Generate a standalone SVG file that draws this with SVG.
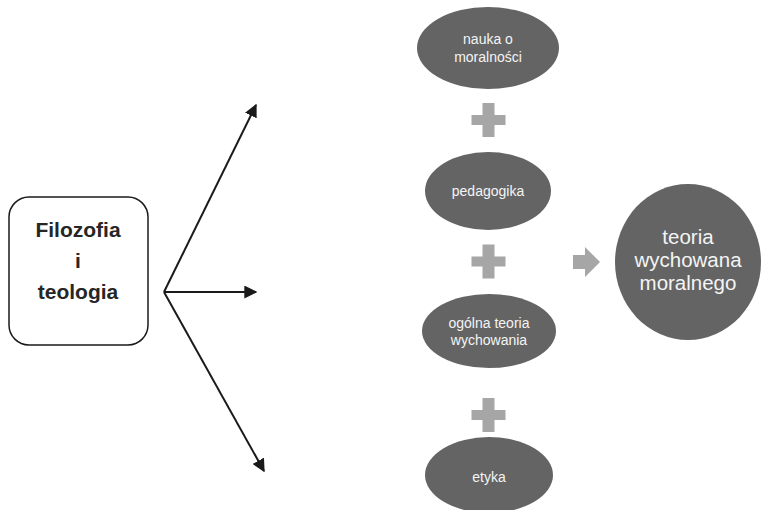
<svg xmlns="http://www.w3.org/2000/svg" width="765" height="510" viewBox="0 0 765 510">
  <defs>
    <style>
      .term { fill: #646464; }
      .term-text { font-family: "Liberation Sans", Arial, sans-serif; font-size: 14px; fill: #f4f4f4; text-anchor: middle; }
      .result-text { font-family: "Liberation Sans", Arial, sans-serif; font-size: 20.5px; fill: #f4f4f4; text-anchor: middle; }
      .source-text { font-family: "Liberation Sans", Arial, sans-serif; font-size: 21px; font-weight: bold; fill: #262626; text-anchor: middle; }
      .plus { fill: #a6a6a6; }
      .link { stroke: #1a1a1a; stroke-width: 2; fill: none; marker-end: url(#tip); }
    </style>
    <marker id="tip" viewBox="0 0 10 10" refX="9" refY="5" markerWidth="6.5" markerHeight="6.5" markerUnits="strokeWidth" orient="auto">
      <path d="M0,0 L10,5 L0,10 Z" fill="#1a1a1a"/>
    </marker>
    <path id="plus-shape" d="M-6,-17 H6 V-5 H17 V5 H6 V17 H-6 V5 H-17 V-5 H-6 Z"/>
  </defs>

  <rect width="765" height="510" fill="#ffffff"/>

  <!-- source box -->
  <g id="source">
    <rect x="9" y="197" width="139" height="148" rx="20" ry="20" fill="#ffffff" stroke="#1a1a1a" stroke-width="1.5"/>
    <text class="source-text" x="78" y="237">Filozofia</text>
    <text class="source-text" x="78" y="268">i</text>
    <text class="source-text" x="78" y="299">teologia</text>
  </g>

  <!-- branching arrows -->
  <g id="connectors">
    <line class="link" x1="164" y1="292" x2="256" y2="105"/>
    <line class="link" x1="164" y1="292" x2="256" y2="292"/>
    <line class="link" x1="164" y1="292" x2="264" y2="471"/>
  </g>

  <!-- component terms -->
  <g id="nauka">
    <ellipse class="term" cx="488" cy="48" rx="71" ry="41"/>
    <text class="term-text" x="488" y="44">nauka o</text>
    <text class="term-text" x="488" y="62">moralności</text>
  </g>
  <g id="plus1"><use href="#plus-shape" class="plus" x="488.5" y="120"/></g>
  <g id="pedagogika">
    <ellipse class="term" cx="488" cy="191" rx="63" ry="39"/>
    <text class="term-text" x="488" y="196">pedagogika</text>
  </g>
  <g id="plus2"><use href="#plus-shape" class="plus" x="488.5" y="261.5"/></g>
  <g id="ogolna">
    <ellipse class="term" cx="489" cy="331" rx="67" ry="37"/>
    <text class="term-text" x="489" y="328">ogólna teoria</text>
    <text class="term-text" x="489" y="345">wychowania</text>
  </g>
  <g id="plus3"><use href="#plus-shape" class="plus" x="488.5" y="415"/></g>
  <g id="etyka">
    <ellipse class="term" cx="489" cy="475" rx="64" ry="38"/>
    <text class="term-text" x="489" y="482">etyka</text>
  </g>

  <!-- result arrow -->
  <g id="result-arrow">
    <path class="plus" d="M573,255 H585 V247 L600,262 L585,277 V269 H573 Z"/>
  </g>

  <!-- result -->
  <g id="result">
    <ellipse class="term" cx="688" cy="262" rx="73" ry="78"/>
    <text class="result-text" x="688" y="244">teoria</text>
    <text class="result-text" x="688" y="267">wychowana</text>
    <text class="result-text" x="688" y="290">moralnego</text>
  </g>
</svg>
